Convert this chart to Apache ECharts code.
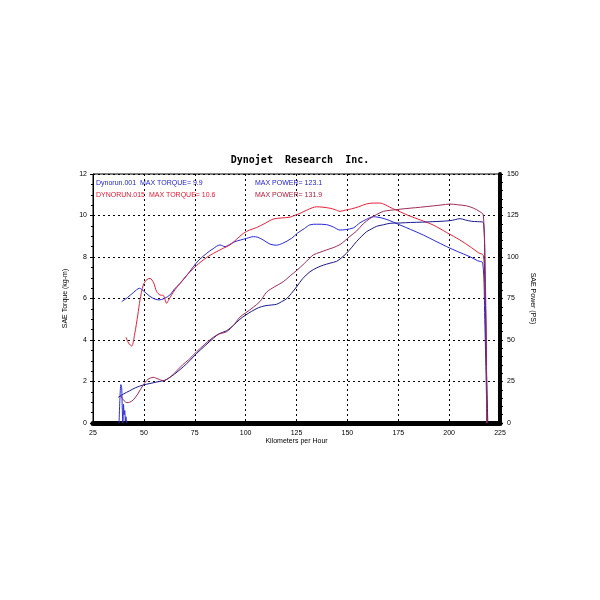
<!DOCTYPE html>
<html><head><meta charset="utf-8">
<script src="https://cdn.jsdelivr.net/npm/echarts@6/dist/echarts.min.js"></script>
<style>html,body{margin:0;padding:0;background:#fff}#c{width:600px;height:600px}</style>
</head><body><div id="c"></div>
<script>
// Speed (km/h), torque (kg-m), power (PS)
const blueTorque = [[39.1,5.85],[42,6.05],[45,6.3],[47.8,6.49],[50,6.35],[53,6.1],[55.5,5.97],[57.5,5.93],[60,6.0],[62.8,6.17],[65,6.45],[67.8,6.73],[71,7.1],[74.3,7.53],[77,7.85],[80.9,8.18],[84,8.4],[87.4,8.58],[89.9,8.5],[92,8.6],[94.8,8.74],[97.5,8.82],[100.5,8.9],[103.8,8.98],[106,8.95],[109,8.8],[112,8.62],[115,8.57],[118,8.65],[122.6,8.9],[125.5,9.15],[129,9.38],[131.6,9.55],[135,9.58],[139.8,9.56],[143,9.45],[146.4,9.3],[149,9.32],[152.9,9.4],[156.2,9.65],[159.5,9.82],[162.7,9.94],[165,9.92],[168,9.85],[170.9,9.75],[175.9,9.54],[181,9.33],[187.3,9.06],[193,8.78],[198.8,8.5],[204,8.27],[210.3,8.01],[214,7.82],[216.5,7.72],[217.5,5],[218.2,2],[218.6,0]];
const redTorque = [[41.2,4.13],[42.5,3.85],[44,3.71],[45.5,4.3],[47,5.2],[48.1,5.93],[49.7,6.65],[51.3,6.9],[53,6.97],[54.8,6.75],[56.3,6.33],[57.9,6.17],[59.5,6.15],[61.2,5.77],[62,5.9],[63.6,6.17],[65.5,6.45],[67.8,6.73],[70,7.0],[72.7,7.29],[76,7.6],[79.2,7.86],[82.5,8.08],[85.8,8.26],[89,8.42],[92.3,8.58],[95.5,8.85],[98.9,9.14],[102,9.3],[105.4,9.42],[109.5,9.62],[113.6,9.83],[117.5,9.88],[121.8,9.92],[124,10.0],[126.7,10.1],[130.5,10.28],[134.9,10.42],[138,10.4],[141.5,10.35],[144,10.28],[146.4,10.2],[149,10.26],[152,10.32],[155.5,10.42],[159.5,10.56],[163,10.6],[166,10.6],[168.5,10.52],[170.9,10.4],[173.5,10.28],[175.9,10.18],[180,10.0],[186,9.78],[192.2,9.54],[198.8,9.18],[205.3,8.82],[211,8.45],[214.5,8.2],[216.8,8.08],[217.8,6],[218.3,3],[218.5,0]];
const bluePower = [[37.4,15.5],[40,17.5],[43,19.4],[46,21.3],[49.7,22.9],[53,23.8],[57.1,24.9],[60,25.6],[62,26.9],[65,29.4],[69.4,33.9],[72.5,37.5],[76,42.0],[80,46.5],[84.1,51.0],[87,53.8],[90.7,55.6],[94,58.8],[97.2,62.5],[100,65.0],[103,67.3],[106.2,69.4],[109.5,70.6],[112.8,71.1],[115.2,71.5],[117.7,73.1],[120.1,74.8],[122.5,78.1],[125.1,82.1],[128,86.9],[131.6,91.1],[135,93.5],[138.2,95.1],[141.5,96.3],[144.7,97.4],[147,99.4],[149.6,102.3],[152,105.6],[154.5,109.3],[157,112.5],[159.5,115.3],[162,117.0],[164.4,118.5],[167.7,119.4],[170.9,120.3],[175.9,120.5],[181,120.8],[187,121.0],[192,121.3],[196,121.5],[200.4,121.9],[203,122.5],[205.3,123.1],[208,122.3],[211,121.5],[214,121.3],[216.8,120.8],[217.6,87],[218.3,37],[219,0]];
const redPower = [[38.3,16.9],[40,13.8],[41.6,12.3],[43,12.5],[44.8,13.9],[47,17.5],[49.7,22.9],[52,26.3],[54.6,27.5],[57,26.5],[59.5,25.5],[62.8,27.5],[65,30.0],[69,35.0],[72,38.1],[76,43.0],[80,47.5],[83,50.6],[85.8,53.0],[88,54.0],[90.7,55.0],[94,58.8],[97.2,63.8],[100,66.3],[103.8,69.8],[107,73.1],[110.3,78.8],[114,81.9],[118.5,85.1],[122,88.8],[125.1,91.9],[129,96.3],[133.3,101.3],[136.5,102.8],[139.8,104.3],[143,105.6],[146.4,107.5],[149,110.0],[151.3,112.5],[154.5,115.6],[157.8,120.0],[161,123.1],[164.4,125.6],[167.7,127.5],[170.9,128.1],[175.9,128.8],[180.8,129.4],[186,130.0],[192.2,130.8],[196,131.3],[200.4,131.9],[204,131.5],[208.6,130.8],[212,129.4],[215.1,127.3],[216.8,125.3],[217.8,87.5],[218.3,37.5],[218.6,0]];
const blueNoise = [[37.8,0],[38.2,1.1],[38.7,1.85],[39.1,1.7],[39.4,0.6],[39.7,0],[40.0,0.9],[40.3,0.4],[40.6,0.6],[40.9,0.1],[41.2,0.3],[41.5,0]];
const titleText = 'Dynojet  Research  Inc.';
const legendLines = [
  {text:'Dynorun.001  MAX TORQUE= 9.9', color:'#1c1cd0'},
  {text:'DYNORUN.015  MAX TORQUE= 10.6', color:'#e81830'}
];
const powerLines = [
  {text:'MAX POWER= 123.1', color:'#1c1cd0'},
  {text:'MAX POWER= 131.9', color:'#b01838'}
];

const NARROW = '"Liberation Sans Narrow", "Liberation Sans", sans-serif';
const chart = echarts.init(document.getElementById('c'), null, {renderer:'canvas'});
const gridDash = {color:'#000', type:[2,3], width:1};
chart.setOption({
  animation:false,
  backgroundColor:'#fff',
  title:{text:titleText, left:'center', top:150, textStyle:{fontFamily:'"DejaVu Sans Mono", monospace', fontWeight:'bold', fontSize:10, color:'#000'}},
  grid:{left:93, right:100, top:174, bottom:177, show:true, borderColor:'#000', borderWidth:1},
  xAxis:{type:'value', min:25, max:225, interval:25,
    name:'Kilometers per Hour', nameLocation:'middle', nameGap:15,
    nameTextStyle:{fontFamily:NARROW, fontSize:7, color:'#000'},
    axisLine:{show:true, onZero:false, lineStyle:{color:'#000', width:5}},
    axisTick:{show:false},
    minorTick:{show:true, splitNumber:5, length:2, lineStyle:{color:'#000'}},
    axisLabel:{fontFamily:NARROW, fontSize:7, color:'#000', margin:7},
    splitLine:{show:true, lineStyle:gridDash}},
  yAxis:[
    {type:'value', min:0, max:12, interval:2, position:'left',
     name:'SAE Torque (kg-m)', nameLocation:'middle', nameGap:19, nameRotate:90,
     nameTextStyle:{fontFamily:NARROW, fontSize:7, color:'#000'},
     axisLine:{show:true, lineStyle:{color:'#000', width:1}},
     axisTick:{show:true, length:3, lineStyle:{color:'#000'}},
     minorTick:{show:true, splitNumber:4, length:2, lineStyle:{color:'#000'}},
     axisLabel:{fontFamily:NARROW, fontSize:7, color:'#000', margin:6},
     splitLine:{show:true, lineStyle:gridDash}},
    {type:'value', min:0, max:150, interval:25, position:'right',
     name:'SAE Power (PS)', nameLocation:'middle', nameGap:26, nameRotate:-90,
     nameTextStyle:{fontFamily:NARROW, fontSize:7, color:'#000'},
     axisLine:{show:true, lineStyle:{color:'#000', width:4}},
     axisTick:{show:true, length:3, lineStyle:{color:'#000'}},
     minorTick:{show:true, splitNumber:5, length:3, lineStyle:{color:'#000'}},
     axisLabel:{fontFamily:NARROW, fontSize:7, color:'#000', margin:7},
     splitLine:{show:false}}
  ],
  graphic:[
    {type:'text', left:96, top:180, style:{text:legendLines[0].text, fill:legendLines[0].color, font:'7px '+NARROW}},
    {type:'text', left:96, top:192, style:{text:legendLines[1].text, fill:legendLines[1].color, font:'7px '+NARROW}},
    {type:'text', left:255, top:180, style:{text:powerLines[0].text, fill:powerLines[0].color, font:'7px '+NARROW}},
    {type:'text', left:255, top:192, style:{text:powerLines[1].text, fill:powerLines[1].color, font:'7px '+NARROW}}
  ],
  series:[
    {type:'line', name:'run001 torque', data:blueTorque, yAxisIndex:0, showSymbol:false, smooth:0.3, lineStyle:{color:'#2a2ad8', width:1}},
    {type:'line', name:'run015 torque', data:redTorque, yAxisIndex:0, showSymbol:false, smooth:0.3, lineStyle:{color:'#e82038', width:1}},
    {type:'line', name:'run001 power', data:bluePower, yAxisIndex:1, showSymbol:false, smooth:0.3, lineStyle:{color:'#1a1a90', width:1}},
    {type:'line', name:'run015 power', data:redPower, yAxisIndex:1, showSymbol:false, smooth:0.3, lineStyle:{color:'#a02a5a', width:1}},
    {type:'line', name:'noise', data:blueNoise, yAxisIndex:0, showSymbol:false, smooth:0.3, lineStyle:{color:'#2a2ad8', width:1}}
  ]
});
</script></body></html>
